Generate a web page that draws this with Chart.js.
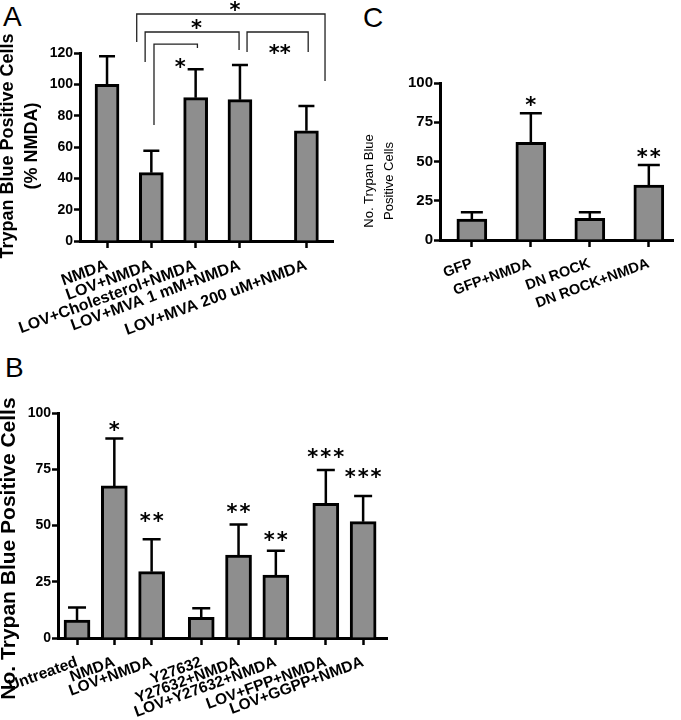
<!DOCTYPE html>
<html><head><meta charset="utf-8">
<script src="https://cdn.jsdelivr.net/npm/chart.js@4.4.1/dist/chart.umd.min.js"></script>
<style>
html,body{margin:0;padding:0;background:#fff}
body{position:relative;width:681px;height:720px;overflow:hidden}
canvas{position:absolute}
.plab{position:absolute;font-family:"Liberation Sans",Arial,sans-serif;font-size:28px;line-height:28px;color:#000}
</style></head><body>
<div class="plab" style="left:3px;top:3px">A</div>
<div class="plab" style="left:363px;top:4px">C</div>
<div class="plab" style="left:5px;top:354px">B</div>
<canvas id="chartA" width="370" height="370" style="left:0;top:0"></canvas>
<canvas id="chartC" width="326" height="330" style="left:355px;top:0"></canvas>
<canvas id="chartB" width="400" height="350" style="left:0;top:370px"></canvas>
<script>
// ---------- Panel A data ----------
const catsA = ['NMDA', 'LOV+NMDA', 'LOV+Cholesterol+NMDA', 'LOV+MVA 1 mM+NMDA', 'LOV+MVA 200 uM+NMDA'];
const meanA = [100, 43.6, 91.5, 90.2, 70.4];
const errA  = [18, 14, 18.1, 22.1, 15.8];
const ticksA = [0, 20, 40, 60, 80, 100, 120];
const titleA = ['Trypan Blue Positive Cells', '(% NMDA)'];
// comparison brackets (x in category slots, y in axis units)
const bracketsA = [
  {x1: 0.67, x2: 4.92, y: 144.9, y1: 127.0, y2: 102.1, label: '*',  lx: 2.89, ly: 150.6},
  {x1: 0.86, x2: 2.98, y: 133.4, y1: 114.2, y2: 121.9, label: '*',  lx: 2.02, ly: 139.1},
  {x1: 1.06, x2: 2.04, y: 125.7, y1: 74.0,  y2: 123.2, label: '*',  lx: 1.65, ly: 114.2},
  {x1: 3.16, x2: 4.54, y: 133.4, y1: 120.6, y2: 120.6, label: '**', lx: 3.90, ly: 123.2}
];

// ---------- Panel B data ----------
const catsB = ['Untreated', 'NMDA', 'LOV+NMDA', 'Y27632', 'Y27632+NMDA', 'LOV+Y27632+NMDA', 'LOV+FPP+NMDA', 'LOV+GGPP+NMDA'];
const meanB = [8, 67.6, 29.5, 9.2, 36.9, 28, 59.9, 51.7];
const errB  = [5.6, 21.1, 14.4, 4.0, 13.6, 10.8, 14.8, 11.4];
const starsB = ['', '*', '**', '', '**', '**', '***', '***'];
const starLevelB = [null, 94.7, 53.9, null, 57.9, 45.8, 82.4, 73.5];
const ticksB = [0, 25, 50, 75, 100];
const titleB = ['No. Trypan Blue Positive Cells'];

// ---------- Panel C data ----------
const catsC = ['GFP', 'GFP+NMDA', 'DN ROCK', 'DN ROCK+NMDA'];
const meanC = [13.4, 62.2, 13.8, 35];
const errC  = [4.2, 18.5, 3.8, 12.8];
const starsC = ['', '*', '', '**'];
const starLevelC = [null, 89.2, null, 56.2];
const ticksC = [0, 25, 50, 75, 100];
const titleC = ['No. Trypan Blue', 'Positive Cells'];

// ---------- layout (slot positions along x, with the gaps of the original) ----------
const layoutA = {slots: [0, 1, 2, 3, 4.5], xMin: -0.61, xMax: 5.10, yMax: 120, yW: 80, xH: 129, pad: {top: 53, right: 37, left: 0, bottom: 0},
  barW: 24, cap: 16, xFont: 16, yFont: 14, starSize: 21, starSpacing: 0,
  title: {bold: true, size: 18, xs: [8.3, 31.9], yc: 146}};
const layoutB = {slots: [0, 1, 2, 3.33, 4.33, 5.33, 6.67, 7.67], xMin: -0.51, xMax: 8.31, yMax: 100, yW: 58, xH: 82, pad: {top: 43, right: 13, left: 0, bottom: 0},
  barW: 26, cap: 18, xFont: 15.5, yFont: 14, starSize: 21, starSpacing: 2,
  title: {bold: true, size: 21, xs: [9.3], yc: 178.5}};
const layoutC = {slots: [0, 1, 2, 3], xMin: -0.54, xMax: 3.41, yMax: 100, yW: 85, xH: 90, pad: {top: 83, right: 8, left: 0, bottom: 0},
  barW: 30, cap: 22, xFont: 14.5, yFont: 15, starSize: 21, starSpacing: 2,
  title: {bold: false, size: 13, xs: [14.8, 34.8], yc: 181}};

const FONT = '"Liberation Sans", Arial, Helvetica, sans-serif';
const STAR_FONT = '"DejaVu Sans", sans-serif';
const BAR_FILL = '#8e8e8e';

const extras = {
  id: 'extras',
  afterDatasetsDraw(chart, args, o) {
    const ctx = chart.ctx, xs = chart.scales.x, ys = chart.scales.y;
    ctx.save();
    // error bars (upper only)
    ctx.strokeStyle = '#000';
    ctx.lineWidth = 2.5;
    o.means.forEach((m, i) => {
      const px = xs.getPixelForValue(o.slots[i]);
      const y0 = ys.getPixelForValue(m), y1 = ys.getPixelForValue(m + o.errs[i]);
      ctx.beginPath();
      ctx.moveTo(px, y0); ctx.lineTo(px, y1);
      ctx.moveTo(px - o.cap / 2, y1); ctx.lineTo(px + o.cap / 2, y1);
      ctx.stroke();
    });
    const drawStars = (s, cx, cy) => {
      if (!s) return;
      ctx.font = 'bold ' + o.starSize + 'px ' + STAR_FONT;
      ctx.fillStyle = '#000';
      ctx.textAlign = 'center';
      ctx.textBaseline = 'alphabetic';
      ctx.letterSpacing = o.starSpacing + 'px';
      ctx.fillText(s, cx + o.starSpacing / 2, cy + o.starSize * 0.56);
      ctx.letterSpacing = '0px';
    };
    // significance stars over bars
    (o.stars || []).forEach((s, i) => {
      if (s && o.starLevels[i] != null) drawStars(s, xs.getPixelForValue(o.slots[i]), ys.getPixelForValue(o.starLevels[i]));
    });
    // brackets
    ctx.strokeStyle = '#222';
    ctx.lineWidth = 1.3;
    (o.brackets || []).forEach(b => {
      const xa = xs.getPixelForValue(b.x1), xb = xs.getPixelForValue(b.x2);
      const yh = ys.getPixelForValue(b.y), ya = ys.getPixelForValue(b.y1), yb = ys.getPixelForValue(b.y2);
      ctx.beginPath();
      ctx.moveTo(xa, ya); ctx.lineTo(xa, yh); ctx.lineTo(xb, yh); ctx.lineTo(xb, yb);
      ctx.stroke();
      drawStars(b.label, xs.getPixelForValue(b.lx), ys.getPixelForValue(b.ly));
    });
    ctx.restore();
  },
  afterDraw(chart, args, o) {
    const ctx = chart.ctx, t = o.title;
    ctx.save();
    ctx.fillStyle = '#000';
    ctx.font = (t.bold ? 'bold ' : '') + t.size + 'px ' + FONT;
    ctx.textAlign = 'center';
    ctx.textBaseline = 'middle';
    o.titleText.forEach((ln, i) => {
      ctx.save();
      ctx.translate(t.xs[i], t.yc);
      ctx.rotate(-Math.PI / 2);
      ctx.fillText(ln, 0, 0);
      ctx.restore();
    });
    ctx.restore();
  }
};

function makePanel(id, cats, means, errs, yTicks, titleText, L, stars, starLevels, brackets) {
  const pts = cats.map((c, i) => ({x: L.slots[i], y: means[i]}));
  return new Chart(document.getElementById(id), {
    type: 'bar',
    data: {datasets: [{data: pts, backgroundColor: BAR_FILL, borderColor: '#000', borderWidth: 3, barThickness: L.barW}]},
    options: {
      responsive: false, animation: false, events: [],
      layout: {padding: L.pad},
      plugins: {
        legend: {display: false}, tooltip: {enabled: false},
        extras: {means, errs, slots: L.slots, cap: L.cap, stars, starLevels, brackets,
                 starSize: L.starSize, starSpacing: L.starSpacing, title: L.title, titleText}
      },
      scales: {
        x: {
          type: 'linear', min: L.xMin, max: L.xMax, offset: false,
          afterBuildTicks: s => { s.ticks = L.slots.map(v => ({value: v})); },
          afterFit: s => { s.height = L.xH; s.paddingLeft = 0; s.paddingRight = 0; },
          ticks: {autoSkip: false, minRotation: 20, maxRotation: 20, padding: 8, color: '#000',
                  font: {family: FONT, weight: 'bold', size: L.xFont},
                  callback: (v, i) => cats[i]},
          grid: {display: true, offset: false, drawOnChartArea: false, drawTicks: true, tickLength: 7, tickWidth: 2.5, tickColor: '#000'},
          border: {display: true, color: '#000', width: 3}
        },
        y: {
          min: 0, max: L.yMax,
          afterBuildTicks: s => { s.ticks = yTicks.map(v => ({value: v})); },
          afterFit: s => { s.width = L.yW; s.paddingTop = 0; s.paddingBottom = 0; },
          ticks: {color: '#000', padding: 1, font: {family: FONT, weight: 'bold', size: L.yFont}},
          grid: {display: true, drawOnChartArea: false, drawTicks: true, tickLength: 6, tickWidth: 2.5, tickColor: '#000'},
          border: {display: true, color: '#000', width: 3}
        }
      }
    },
    plugins: [extras]
  });
}

makePanel('chartA', catsA, meanA, errA, ticksA, titleA, layoutA, [], [], bracketsA);
makePanel('chartB', catsB, meanB, errB, ticksB, titleB, layoutB, starsB, starLevelB, []);
makePanel('chartC', catsC, meanC, errC, ticksC, titleC, layoutC, starsC, starLevelC, []);
</script>
</body></html>
